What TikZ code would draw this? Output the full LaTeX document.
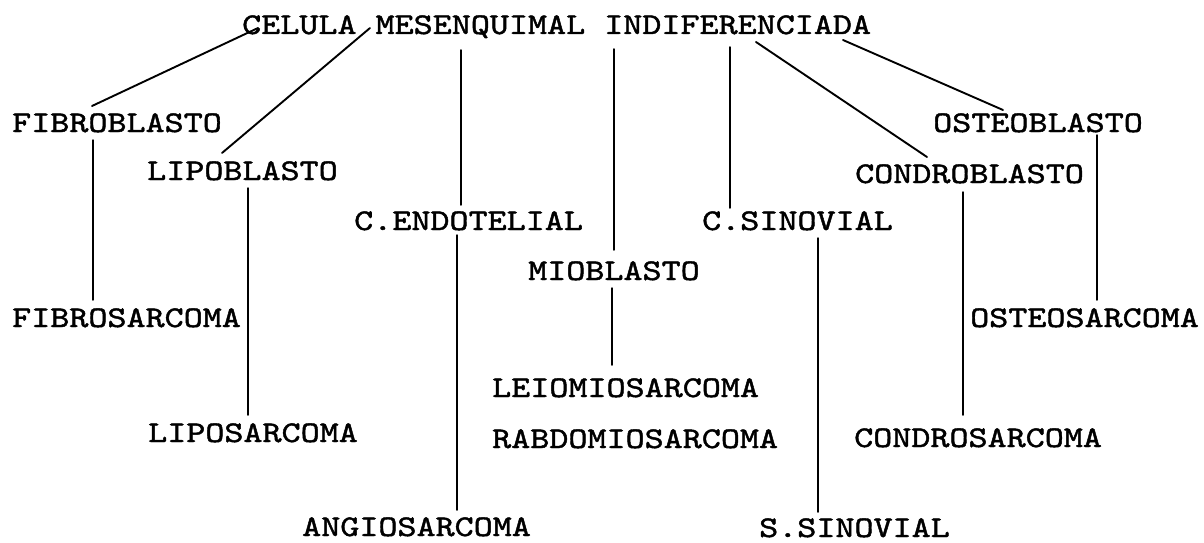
\documentclass[tikz,border=0pt]{standalone}
\usepackage{fontspec}
\newfontfamily\tw{lmmono10-regular.otf}[FakeStretch=1.21,FakeBold=1.5]
\begin{document}
\begin{tikzpicture}[x=1pt,y=-1pt,
  lbl/.style={anchor=base west,inner sep=0pt,font=\tw\fontsize{30}{30}\selectfont},
  conn/.style={line width=1.5pt,line cap=round},
  diag/.style={line width=1.9pt,line cap=round}]
\useasboundingbox (0,0) rectangle (1204,543);
\fill[white] (0,0) rectangle (1204,543);
% nodes
\node[lbl] (title) at (242,34) {CELULA MESENQUIMAL INDIFERENCIADA};
\node[lbl] (fibro) at (12,132) {FIBROBLASTO};
\node[lbl] (lipo) at (147,180) {LIPOBLASTO};
\node[lbl] (cendo) at (354,230) {C.ENDOTELIAL};
\node[lbl] (csino) at (702,230) {C.SINOVIAL};
\node[lbl] (mio) at (528,280) {MIOBLASTO};
\node[lbl] (condro) at (855,183) {CONDROBLASTO};
\node[lbl] (osteo) at (933,132) {OSTEOBLASTO};
\node[lbl] (fibrosarc) at (12,327) {FIBROSARCOMA};
\node[lbl] (osteosarc) at (970,327) {OSTEOSARCOMA};
\node[lbl] (leio) at (492,397) {LEIOMIOSARCOMA};
\node[lbl] (liposarc) at (148,442) {LIPOSARCOMA};
\node[lbl] (rabdo) at (492,448) {RABDOMIOSARCOMA};
\node[lbl] (condrosarc) at (854,447) {CONDROSARCOMA};
\node[lbl] (angio) at (302,536) {ANGIOSARCOMA};
\node[lbl] (ssino) at (759,537) {S.SINOVIAL};
% connectors from the title
\draw[diag] ([shift={(16,-6)}]title.base west) -- ([shift={(80,-26)}]fibro.base west);
\draw[diag] ([shift={(128,-6)}]title.base west) -- ([shift={(75,-27)}]lipo.base west);
\draw[conn] ([shift={(219,16)}]title.base west) -- ([shift={(107,-25)}]cendo.base west);
\draw[conn] ([shift={(372,15)}]title.base west) -- ([shift={(86,-30)}]mio.base west);
\draw[conn] ([shift={(488,13)}]title.base west) -- ([shift={(28,-22)}]csino.base west);
\draw[diag] ([shift={(514,8)}]title.base west) -- ([shift={(72,-26)}]condro.base west);
\draw[diag] ([shift={(601,6)}]title.base west) -- ([shift={(70,-22)}]osteo.base west);
% cell to sarcoma
\draw[conn] ([shift={(81,8)}]fibro.base west) -- ([shift={(81,-27)}]fibrosarc.base west);
\draw[conn] ([shift={(101,8)}]lipo.base west) -- ([shift={(100,-27)}]liposarc.base west);
\draw[conn] ([shift={(103,5)}]cendo.base west) -- ([shift={(155,-26)}]angio.base west);
\draw[conn] ([shift={(84,8)}]mio.base west) -- ([shift={(120,-32)}]leio.base west);
\draw[conn] ([shift={(116,8)}]csino.base west) -- ([shift={(59,-25)}]ssino.base west);
\draw[conn] ([shift={(108,9)}]condro.base west) -- ([shift={(109,-32)}]condrosarc.base west);
\draw[conn] ([shift={(164,3)}]osteo.base west) -- ([shift={(127,-27)}]osteosarc.base west);
\end{tikzpicture}
\end{document}
